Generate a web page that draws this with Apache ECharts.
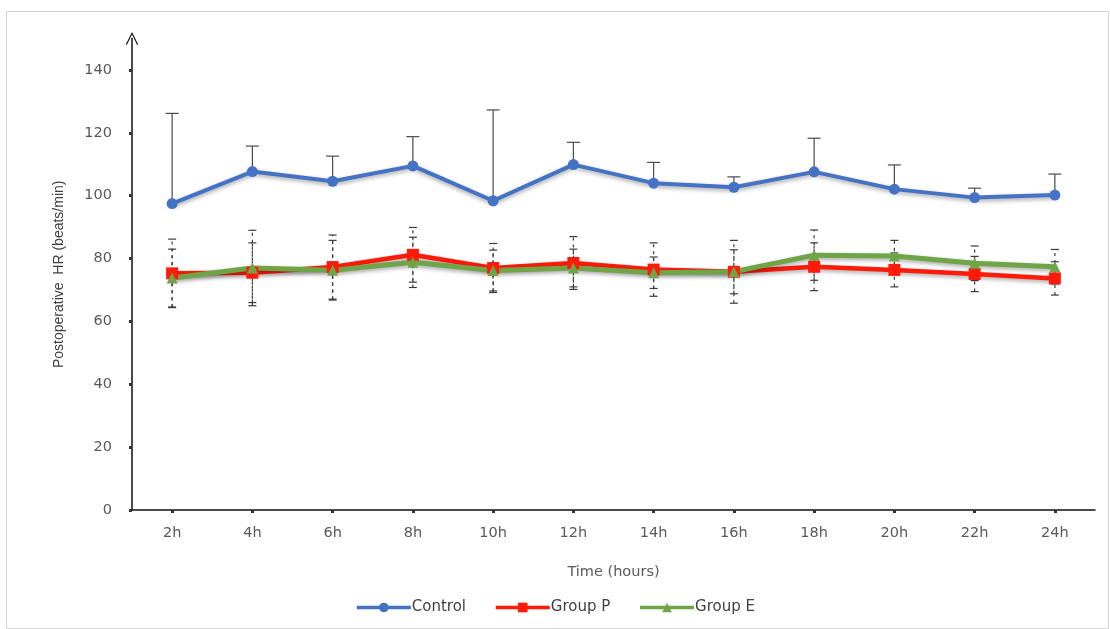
<!DOCTYPE html>
<html>
<head>
<meta charset="utf-8">
<title>Postoperative heart rate</title>
<script src="https://cdn.jsdelivr.net/npm/echarts@6/dist/echarts.min.js"></script>
<style>
  html, body { margin: 0; padding: 0; background: #ffffff; }
  #chart { width: 1110px; height: 629px; }
</style>
</head>
<body>
<div id="chart"></div>
<script>
// Time points after surgery
const categories = ['2h', '4h', '6h', '8h', '10h', '12h', '14h', '16h', '18h', '20h', '22h', '24h'];

// Mean heart rate (beats/min) and standard deviation per group
const controlMean = [97.5, 107.7, 104.6, 109.5, 98.4, 109.9, 104.0, 102.7, 107.6, 102.1, 99.4, 100.2];
const controlSD   = [28.7, 8.1, 8.0, 9.3, 28.9, 7.1, 6.6, 3.3, 10.7, 7.7, 3.0, 6.7];

const groupPMean  = [75.3, 75.5, 77.3, 81.2, 77.0, 78.6, 76.5, 75.8, 77.4, 76.4, 75.1, 73.7];
const groupPSD    = [10.9, 9.5, 10.2, 8.7, 7.8, 8.4, 8.5, 10.0, 7.6, 5.4, 5.6, 5.3];

const groupEMean  = [73.8, 77.0, 76.3, 78.8, 76.2, 77.0, 75.5, 75.8, 81.1, 80.8, 78.5, 77.4];
const groupESD    = [9.2, 12.0, 9.5, 8.0, 6.5, 6.0, 5.0, 7.0, 8.0, 5.0, 5.5, 5.5];

const seriesNames = ['Control', 'Group P', 'Group E'];
const colors = ['#4472C4', '#FF1A0A', '#6FA547'];

// Error bar rows: [category index, low, high]
const controlBars = controlMean.map((m, i) => [i, m, m + controlSD[i]]);
const groupPBars  = groupPMean.map((m, i) => [i, m - groupPSD[i], m + groupPSD[i]]);
const groupEBars  = groupEMean.map((m, i) => [i, m - groupESD[i], m + groupESD[i]]);

function errorBarRenderer(capHalf, lowerCap, lineStyle) {
  return function (params, api) {
    const idx = api.value(0);
    const lo = api.coord([idx, api.value(1)]);
    const hi = api.coord([idx, api.value(2)]);
    const capStyle = Object.assign({}, lineStyle, { lineDash: null });
    const children = [
      { type: 'line', shape: { x1: hi[0], y1: lo[1], x2: hi[0], y2: hi[1] }, style: lineStyle },
      { type: 'line', shape: { x1: hi[0] - capHalf, y1: hi[1], x2: hi[0] + capHalf, y2: hi[1] }, style: capStyle }
    ];
    if (lowerCap) {
      children.push({ type: 'line', shape: { x1: lo[0] - capHalf, y1: lo[1], x2: lo[0] + capHalf, y2: lo[1] }, style: capStyle });
    }
    return { type: 'group', children: children };
  };
}

const labelFont = { fontFamily: 'DejaVu Sans', fontSize: 14.5, color: '#595959' };
const lineShadow = { shadowColor: 'rgba(0,0,0,0.35)', shadowBlur: 4, shadowOffsetY: 2 };

const chart = echarts.init(document.getElementById('chart'), null, { renderer: 'canvas' });

chart.setOption({
  animation: false,
  backgroundColor: '#ffffff',
  graphic: [{
    type: 'rect',
    left: 4, top: 9,
    shape: { width: 1102, height: 617 },
    style: { fill: 'none', stroke: '#d4d4d4', lineWidth: 1 },
    silent: true, z: -1
  }],
  grid: { left: 132, right: 15, top: 38.6, bottom: 119, containLabel: false },
  legend: {
    data: seriesNames,
    bottom: 9,
    left: 'center',
    itemWidth: 54,
    itemHeight: 12,
    itemGap: 28,
    lineStyle: { width: 3.5 },
    textStyle: { fontFamily: 'DejaVu Sans', fontSize: 15, color: '#404040', padding: [0, 0, 0, -4] }
  },
  xAxis: {
    type: 'category',
    data: categories,
    boundaryGap: true,
    name: 'Time (hours)',
    nameLocation: 'middle',
    nameGap: 55,
    nameTextStyle: labelFont,
    axisLine: { lineStyle: { color: '#111111', width: 1.5 } },
    axisTick: { show: true, alignWithLabel: true, length: 3, lineStyle: { color: '#333333', width: 3 } },
    axisLabel: Object.assign({ margin: 16 }, labelFont),
    splitLine: { show: false }
  },
  yAxis: {
    type: 'value',
    min: 0,
    max: 150,
    interval: 20,
    name: 'Postoperative  HR (beats/min)',
    nameLocation: 'middle',
    nameGap: 66,
    nameRotate: 90,
    nameTextStyle: { fontFamily: 'Liberation Sans', fontSize: 14, color: '#404040' },
    axisLine: {
      show: true,
      symbol: ['none', 'path://M0 10 L5 0 L10 10 L9.2 10.6 L5 2 L0.8 10.6 Z'],
      symbolSize: [18, 13],
      lineStyle: { color: '#111111', width: 1.5 }
    },
    axisTick: { show: true, length: 3, lineStyle: { color: '#333333', width: 3 } },
    axisLabel: Object.assign({ margin: 20, showMaxLabel: false }, labelFont),
    splitLine: { show: false }
  },
  series: [
    {
      name: 'Control error',
      type: 'custom',
      data: controlBars,
      renderItem: errorBarRenderer(6.5, false, { stroke: '#4a4a4a', lineWidth: 1.2 }),
      z: 1,
      silent: true
    },
    {
      name: 'Group P error',
      type: 'custom',
      data: groupPBars,
      renderItem: errorBarRenderer(4, true, { stroke: '#3a3a3a', lineWidth: 1.2, lineDash: [3, 4] }),
      z: 1,
      silent: true
    },
    {
      name: 'Group E error',
      type: 'custom',
      data: groupEBars,
      renderItem: errorBarRenderer(4, true, { stroke: '#3a3a3a', lineWidth: 1.2, lineDash: [3, 4] }),
      z: 1,
      silent: true
    },
    {
      name: 'Control',
      type: 'line',
      data: controlMean,
      symbol: 'circle',
      symbolSize: 11,
      color: colors[0],
      lineStyle: Object.assign({ width: 4, color: colors[0] }, lineShadow),
      itemStyle: { color: colors[0] },
      z: 3
    },
    {
      name: 'Group P',
      type: 'line',
      data: groupPMean,
      symbol: 'rect',
      symbolSize: 12,
      color: colors[1],
      lineStyle: Object.assign({ width: 4.5, color: colors[1] }, lineShadow),
      itemStyle: { color: colors[1] },
      z: 3
    },
    {
      name: 'Group E',
      type: 'line',
      data: groupEMean,
      symbol: 'triangle',
      symbolSize: 11,
      color: colors[2],
      lineStyle: Object.assign({ width: 5, color: colors[2] }, lineShadow),
      itemStyle: { color: colors[2] },
      z: 3
    }
  ]
});
</script>
</body>
</html>
